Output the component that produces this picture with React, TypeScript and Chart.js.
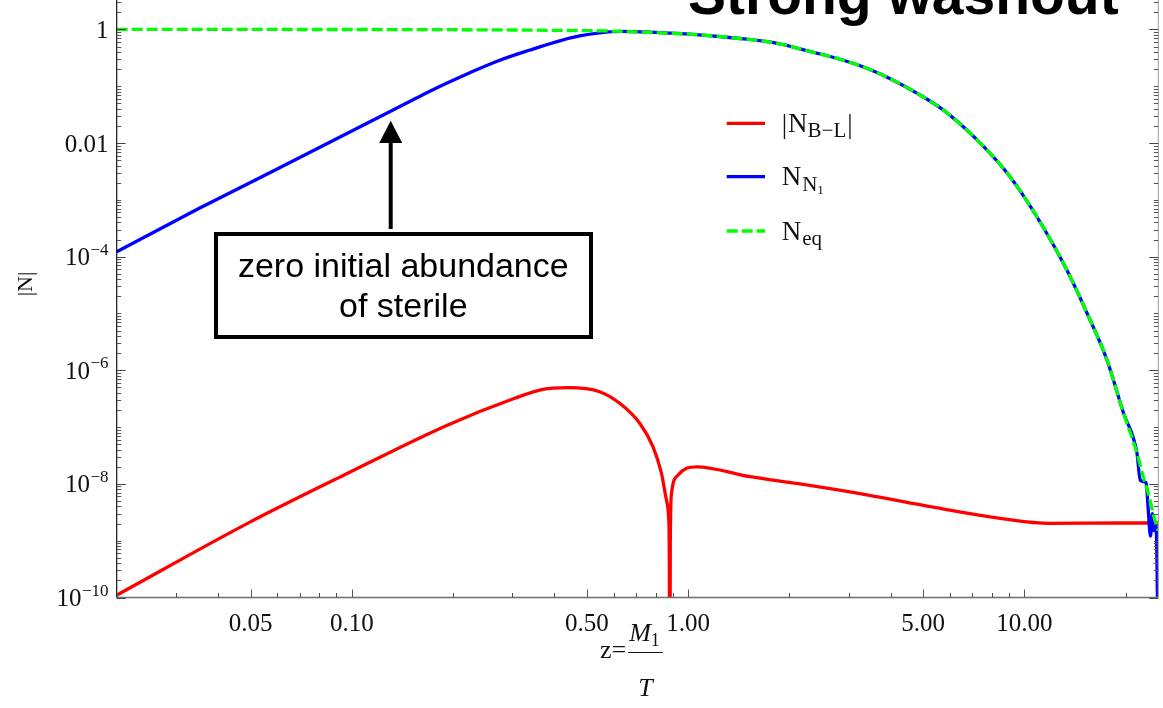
import React, { useEffect, useRef } from 'react';
import { Chart, registerables } from 'chart.js';

Chart.register(...registerables);

// ---------- data ----------
const zEq = [0.02, 0.1, 0.2, 0.3, 0.415, 0.585, 0.72, 1.03, 1.4, 1.84, 2.3, 2.88, 3.4, 4.06, 4.8, 5.73, 7.23, 9.07, 11.36, 13.37, 15.34, 17.59, 19.7, 21.6, 22.6, 23.5, 24.2, 25];
const nEq = [1.0, 0.998, 0.99, 0.978, 0.96, 0.94, 0.9, 0.82, 0.7, 0.57, 0.41, 0.29, 0.207, 0.129, 0.075, 0.0383, 0.01135, 2.53e-3, 3.33e-4, 5.83e-5, 1.02e-5, 1.52e-6, 1.77e-7, 3.5e-8, 1.27e-8, 5.9e-9, 2.8e-9, 1.5e-9];

const zN1 = [0.02, 0.0352, 0.06, 0.1517, 0.1824, 0.2244, 0.2754, 0.339, 0.415, 0.476, 0.546, 0.626, 0.72, 1.03, 1.4, 1.84, 2.3, 2.88, 3.4, 4.06, 4.8, 5.73, 7.23, 9.07, 11.36, 13.37, 15.34, 17.59, 19.7, 21.6, 22.1, 23.0, 23.3, 23.7, 24.0, 24.3, 24.6, 24.85, 25];
const nN1 = [1.22e-4, 7.1e-4, 3.5e-3, 0.0574, 0.0988, 0.173, 0.287, 0.435, 0.63, 0.768, 0.868, 0.922, 0.905, 0.82, 0.7, 0.57, 0.41, 0.29, 0.207, 0.129, 0.075, 0.0383, 0.01135, 2.53e-3, 3.33e-4, 5.83e-5, 1.02e-5, 1.52e-6, 1.77e-7, 3.5e-8, 1.15e-8, 1.05e-8, 4e-9, 1.2e-9, 3e-9, 1.5e-9, 2e-9, 1e-10, 1e-12];

const zBL = [0.02, 0.049, 0.0973, 0.193, 0.305, 0.37, 0.439, 0.546, 0.626, 0.718, 0.786, 0.833, 0.862, 0.876, 0.879, 0.882, 0.885, 0.8925, 0.934, 0.989, 1.06, 1.526, 2.15, 3.4, 5.36, 8.47, 11.93, 19.3, 25];
const nBL = [1.1e-10, 2.02e-9, 1.54e-8, 1.09e-7, 3.21e-7, 4.63e-7, 4.94e-7, 4.2e-7, 2.62e-7, 1.17e-7, 4.52e-8, 1.54e-8, 5.2e-9, 2.3e-9, 6e-10, 1e-13, 8e-10, 6.8e-9, 1.43e-8, 1.88e-8, 2.0e-8, 1.34e-8, 9.96e-9, 6.4e-9, 3.88e-9, 2.48e-9, 2.02e-9, 2.05e-9, 2.05e-9];

// ---------- axes / labels ----------
const X_MIN = 0.02;
const X_MAX = 25;
const Y_MIN = 1e-10;
const Y_MAX = 3.3;
const xMajorTicks = [0.05, 0.1, 0.5, 1, 5, 10];
const xTickLabels = ['0.05', '0.10', '0.50', '1.00', '5.00', '10.00'];
const xMinorTicks = [0.02, 0.03, 0.04, 0.06, 0.07, 0.08, 0.09, 0.2, 0.3, 0.4, 0.6, 0.7, 0.8, 0.9, 2, 3, 4, 6, 7, 8, 9, 20];
const yMajorTicks = [1e-10, 1e-8, 1e-6, 1e-4, 1e-2, 1];
const yTickBase = ['10', '10', '10', '10', '0.01', '1'];
const yTickExp = ['\u221210', '\u22128', '\u22126', '\u22124', '', ''];
const titleText = 'Strong washout';
const yAxisTitle = '|N|';
const noteLines = ['zero initial abundance', 'of sterile'];
const EQ_DASH = [11, 4];

const SERIF = '"Liberation Serif", "Times New Roman", serif';
const SANS = '"Liberation Sans", Arial, sans-serif';

function pts(xs: number[], ys: number[]) {
  return xs.map((x, i) => ({ x, y: ys[i] }));
}

const decoPlugin = {
  id: 'deco',
  afterDatasetsDraw(chart: any) {
    const { ctx, chartArea: ca } = chart;
    const xs = chart.scales.x;
    const ys = chart.scales.y;
    const line = (x1: number, y1: number, x2: number, y2: number) => {
      ctx.beginPath();
      ctx.moveTo(x1, y1);
      ctx.lineTo(x2, y2);
      ctx.stroke();
    };
    const text = (s: string, x: number, y: number, font: string, align: CanvasTextAlign = 'left', base: CanvasTextBaseline = 'alphabetic') => {
      ctx.font = font;
      ctx.textAlign = align;
      ctx.textBaseline = base;
      ctx.fillText(s, x, y);
      return ctx.measureText(s).width;
    };
    ctx.save();

    // frame lines
    ctx.strokeStyle = '#6e6e6e';
    ctx.lineWidth = 1.5;
    line(ca.left, ca.bottom, ca.right, ca.bottom);
    ctx.strokeStyle = '#9a9a9a';
    ctx.lineWidth = 1;
    line(ca.right, ca.top, ca.right, ca.bottom);
    ctx.strokeStyle = '#111';
    ctx.lineWidth = 1.2;
    line(ca.left, ca.top, ca.left, ca.bottom);

    // x ticks (inward)
    ctx.strokeStyle = '#555';
    ctx.lineWidth = 1;
    xMajorTicks.forEach((v) => {
      const px = Math.round(xs.getPixelForValue(v)) + 0.5;
      line(px, ca.bottom, px, ca.bottom - 8);
    });
    xMinorTicks.forEach((v) => {
      const px = Math.round(xs.getPixelForValue(v)) + 0.5;
      line(px, ca.bottom, px, ca.bottom - 4.5);
    });

    // y ticks (inward, left and right)
    for (let e = -10; e <= 0; e++) {
      for (let m = 1; m <= 9; m++) {
        const v = m * Math.pow(10, e);
        if (v > Y_MAX) continue;
        const isMajor = m === 1 && e % 2 === 0;
        const py = Math.round(ys.getPixelForValue(v)) + 0.5;
        const len = isMajor ? 9 : 4.5;
        ctx.strokeStyle = isMajor ? '#444' : '#555';
        line(ca.left, py, ca.left + len, py);
        line(ca.right, py, ca.right - len, py);
      }
    }

    // x tick labels
    ctx.fillStyle = '#111';
    xMajorTicks.forEach((v, i) => {
      text(xTickLabels[i], xs.getPixelForValue(v), 631, `25px ${SERIF}`, 'center');
    });

    // y tick labels
    yMajorTicks.forEach((v, i) => {
      const py = ys.getPixelForValue(v);
      const right = 108.5;
      if (yTickExp[i]) {
        ctx.font = `17px ${SERIF}`;
        const ew = ctx.measureText(yTickExp[i]).width;
        text(yTickExp[i], right, py - 1.8, `17px ${SERIF}`, 'right');
        text(yTickBase[i], right - ew - 0.5, py + 8.5, `25px ${SERIF}`, 'right');
      } else {
        text(yTickBase[i], right, py + 8.5, `25px ${SERIF}`, 'right');
      }
    });

    // y axis title
    ctx.save();
    ctx.translate(26, 284);
    ctx.rotate(-Math.PI / 2);
    text(yAxisTitle, 0, 0, `22px ${SERIF}`, 'center', 'middle');
    ctx.restore();

    // x axis title: z = M1 / T
    const bar = 652;
    let cx = 600;
    cx += text('z=', cx, bar + 6, `26px ${SERIF}`);
    const fracL = cx + 2;
    ctx.font = `italic 26px ${SERIF}`;
    const mW = ctx.measureText('M').width;
    ctx.font = `18px ${SERIF}`;
    const oneW = ctx.measureText('1').width;
    const fracW = mW + oneW + 2;
    text('M', fracL + 1, bar - 11, `italic 26px ${SERIF}`);
    text('1', fracL + 1 + mW, bar - 6, `18px ${SERIF}`);
    ctx.strokeStyle = '#111';
    ctx.lineWidth = 1;
    line(fracL, bar + 0.5, fracL + fracW + 2, bar + 0.5);
    text('T', fracL + (fracW + 2) / 2, bar + 44, `italic 26px ${SERIF}`, 'center');

    // legend
    const legX1 = 726.7;
    const legX2 = 765;
    const legTx = 781.7;
    const rows = [
      { y: 123.3, color: '#ff0000', dash: [] as number[] },
      { y: 176.7, color: '#0000ff', dash: [] as number[] },
      { y: 231, color: '#00ff00', dash: EQ_DASH },
    ];
    rows.forEach((r) => {
      ctx.strokeStyle = r.color;
      ctx.lineWidth = 3.3;
      ctx.setLineDash(r.dash);
      line(legX1, r.y, legX2, r.y);
    });
    ctx.setLineDash([]);
    ctx.fillStyle = '#111';
    const mainF = `27px ${SERIF}`;
    const subF = `21px ${SERIF}`;
    const subsubF = `13px ${SERIF}`;
    {
      const b = rows[0].y + 8.5;
      let x = legTx;
      x += text('|', x, b + 1, mainF);
      x += text('N', x + 1, b, mainF) + 1;
      x += text('B\u2212L', x, b + 5.5, subF);
      text('|', x + 1, b + 1, mainF);
    }
    {
      const b = rows[1].y + 8.5;
      let x = legTx;
      x += text('N', x, b, mainF);
      x += text('N', x + 1, b + 5.5, subF) + 1;
      text('1', x, b + 9, subsubF);
    }
    {
      const b = rows[2].y + 8.5;
      let x = legTx;
      x += text('N', x, b, mainF);
      text('eq', x + 1, b + 5.5, subF);
    }

    // annotation box + arrow
    ctx.fillStyle = '#ffffff';
    ctx.fillRect(216, 234, 375, 103);
    ctx.strokeStyle = '#000';
    ctx.lineWidth = 4;
    ctx.strokeRect(216, 234, 375, 103);
    ctx.fillStyle = '#000';
    text(noteLines[0], 403.3, 277, `34px ${SANS}`, 'center');
    text(noteLines[1], 403.3, 317, `34px ${SANS}`, 'center');
    ctx.lineWidth = 4;
    line(390.7, 229, 390.7, 140);
    ctx.beginPath();
    ctx.moveTo(390.7, 120.7);
    ctx.lineTo(402.2, 143);
    ctx.lineTo(379.2, 143);
    ctx.closePath();
    ctx.fill();

    // title (cut at top)
    ctx.fillStyle = '#000';
    text(titleText, 688, 13.5, `bold 57px ${SANS}`);

    ctx.restore();
  },
};

export default function App() {
  const canvasRef = useRef<HTMLCanvasElement | null>(null);

  useEffect(() => {
    document.body.style.margin = '0';
    const canvas = canvasRef.current;
    if (!canvas) return;
    const chart = new Chart(canvas, {
      type: 'line',
      data: {
        datasets: [
          {
            label: 'N_eq',
            data: pts(zEq, nEq),
            borderColor: '#00ff00',
            borderWidth: 3.3,
            borderDash: EQ_DASH,
            pointRadius: 0,
            cubicInterpolationMode: 'monotone',
            order: 0,
          },
          {
            label: 'N_N1',
            data: pts(zN1, nN1),
            borderColor: '#0000ff',
            borderWidth: 3.3,
            pointRadius: 0,
            cubicInterpolationMode: 'monotone',
            order: 1,
          },
          {
            label: '|N_B-L|',
            data: pts(zBL, nBL),
            borderColor: '#ff0000',
            borderWidth: 3.3,
            pointRadius: 0,
            cubicInterpolationMode: 'monotone',
            order: 2,
          },
        ],
      } as any,
      options: {
        animation: false,
        responsive: false,
        devicePixelRatio: 1,
        layout: { padding: { left: 116.7, right: 1163 - 1158.3, top: 0, bottom: 708 - 597.5 } },
        scales: {
          x: { type: 'logarithmic', min: X_MIN, max: X_MAX, display: false },
          y: { type: 'logarithmic', min: Y_MIN, max: Y_MAX, display: false },
        },
        plugins: { legend: { display: false }, tooltip: { enabled: false } },
        elements: { point: { radius: 0 } },
      } as any,
      plugins: [decoPlugin],
    });
    return () => chart.destroy();
  }, []);

  return (
    <div style={{ position: 'absolute', left: 0, top: 0, width: 1163, height: 708, background: '#fff' }}>
      <canvas ref={canvasRef} width={1163} height={708} style={{ display: 'block' }} />
    </div>
  );
}
